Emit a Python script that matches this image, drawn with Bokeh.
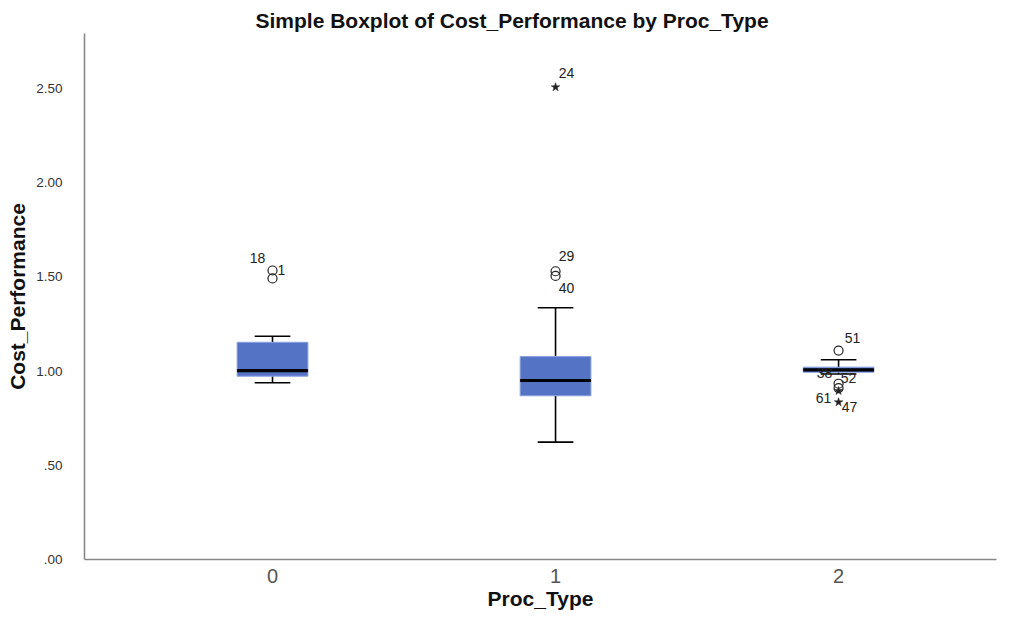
from bokeh.plotting import figure
from bokeh.models import Range1d, FixedTicker, ColumnDataSource, Title
from bokeh.core.properties import value
from bokeh.embed import file_html
from bokeh.resources import INLINE

# ---- data ----
groups = ["0", "1", "2"]
group_pos = [0, 1, 2]
lower_whisker = [0.938, 0.623, 0.985]
q1 = [0.973, 0.869, 0.994]
median = [1.003, 0.950, 1.006]
q3 = [1.153, 1.077, 1.021]
upper_whisker = [1.185, 1.336, 1.060]

# mild outliers (circles)
out_group = [0, 0, 1, 1, 2, 2, 2]
out_value = [1.534, 1.492, 1.530, 1.505, 1.109, 0.933, 0.910]
out_label = ["18", "1", "29", "40", "51", "38", "52"]

# extreme outliers (stars)
ext_group = [1, 2, 2]
ext_value = [2.507, 0.895, 0.835]
ext_label = ["24", "61", "47"]

y_ticks = [0.0, 0.5, 1.0, 1.5, 2.0, 2.5]
y_tick_labels = [".00", ".50", "1.00", "1.50", "2.00", "2.50"]

title_text = "Simple Boxplot of Cost_Performance by Proc_Type"
x_title = "Proc_Type"
y_title = "Cost_Performance"

# ---- style (label offsets in screen px, +y = down) ----
out_dx = [-15, 9, 11, 11, 14, -14, 10]
out_dy = [-13, -8, -15, 12, -13, -11, -10]
ext_dx = [11, -15, 11]
ext_dy = [-14, 7, 5]

FONT = "Liberation Sans"
BOX_W = 0.25
CAP_W = 0.126

p = figure(width=998, height=618, output_backend="svg", toolbar_location=None,
           x_range=Range1d(-0.6643, 2.558), y_range=Range1d(0, 2.792),
           min_border_left=84, min_border_right=2, min_border_top=33,
           min_border_bottom=59)
p.title = Title(text=title_text, align="left", offset=171, standoff=4,
                text_font=FONT, text_font_size="21px", text_font_style="bold",
                text_color="#111111")
p.outline_line_color = None
p.grid.visible = False
p.background_fill_color = "white"
p.border_fill_color = "white"

xs = list(group_pos)
src = ColumnDataSource(dict(
    x=xs, lw=lower_whisker, q1=q1, med=median, q3=q3, uw=upper_whisker,
    bl=[g - BOX_W / 2 for g in xs], br=[g + BOX_W / 2 for g in xs],
    cl=[g - CAP_W / 2 for g in xs], cr=[g + CAP_W / 2 for g in xs],
))

# whisker stems
p.segment(x0="x", y0="q3", x1="x", y1="uw", source=src, line_color="black", line_width=1.6)
p.segment(x0="x", y0="q1", x1="x", y1="lw", source=src, line_color="black", line_width=1.6)
# caps
p.segment(x0="cl", y0="uw", x1="cr", y1="uw", source=src, line_color="black", line_width=1.6)
p.segment(x0="cl", y0="lw", x1="cr", y1="lw", source=src, line_color="black", line_width=1.6)
# boxes
p.quad(left="bl", right="br", bottom="q1", top="q3", source=src,
       fill_color="#5473C4", line_color="#8aa0dc", line_width=1)
# medians
p.segment(x0="bl", y0="med", x1="br", y1="med", source=src, line_color="black", line_width=3.2)

# outliers
osrc = ColumnDataSource(dict(x=out_group, y=out_value, t=out_label, dx=out_dx, dy=out_dy))
p.scatter(x="x", y="y", source=osrc, marker="circle", size=9, fill_color=None,
          line_color="#222222", line_width=1.2)
p.text(x="x", y="y", text="t", x_offset="dx", y_offset="dy", source=osrc,
       text_font=value(FONT), text_font_size="14px", text_color="#222222",
       text_align="center", text_baseline="middle")

esrc = ColumnDataSource(dict(x=ext_group, y=ext_value, t=ext_label, dx=ext_dx, dy=ext_dy))
p.scatter(x="x", y="y", source=esrc, marker="star", size=9, fill_color="#222222",
          line_color="#222222", line_width=0.5)
p.text(x="x", y="y", text="t", x_offset="dx", y_offset="dy", source=esrc,
       text_font=value(FONT), text_font_size="14px", text_color="#222222",
       text_align="center", text_baseline="middle")

# axes
xa = p.xaxis[0]
xa.ticker = FixedTicker(ticks=group_pos)
xa.major_label_overrides = {g: lab for g, lab in zip(group_pos, groups)}
xa.major_label_text_font = FONT
xa.major_label_text_font_size = "20px"
xa.major_label_text_color = "#555555"
xa.major_label_standoff = 9
xa.axis_label = x_title
xa.axis_label_text_font = FONT
xa.axis_label_text_font_size = "21px"
xa.axis_label_text_font_style = "bold"
xa.axis_label_text_color = "#111111"
xa.axis_label_standoff = 1
xa.major_tick_out = 0
xa.major_tick_in = 0
xa.minor_tick_out = 0
xa.minor_tick_in = 0
xa.axis_line_color = "#888888"
xa.axis_line_width = 1.6

ya = p.yaxis[0]
ya.ticker = FixedTicker(ticks=y_ticks)
ya.major_label_overrides = {t: lab for t, lab in zip(y_ticks, y_tick_labels)}
ya.axis_label = y_title
ya.axis_label_text_font = FONT
ya.axis_label_text_font_size = "21px"
ya.axis_label_text_font_style = "bold"
ya.axis_label_text_color = "#111111"
ya.axis_label_standoff = 4
ya.major_label_text_font = FONT
ya.major_label_text_font_size = "13.5px"
ya.major_label_text_color = "#333333"
ya.major_label_standoff = 22
ya.major_tick_out = 0
ya.major_tick_in = 0
ya.minor_tick_out = 0
ya.minor_tick_in = 0
ya.axis_line_color = "#888888"
ya.axis_line_width = 1.6

open("out.html", "w").write(file_html(p, INLINE))
